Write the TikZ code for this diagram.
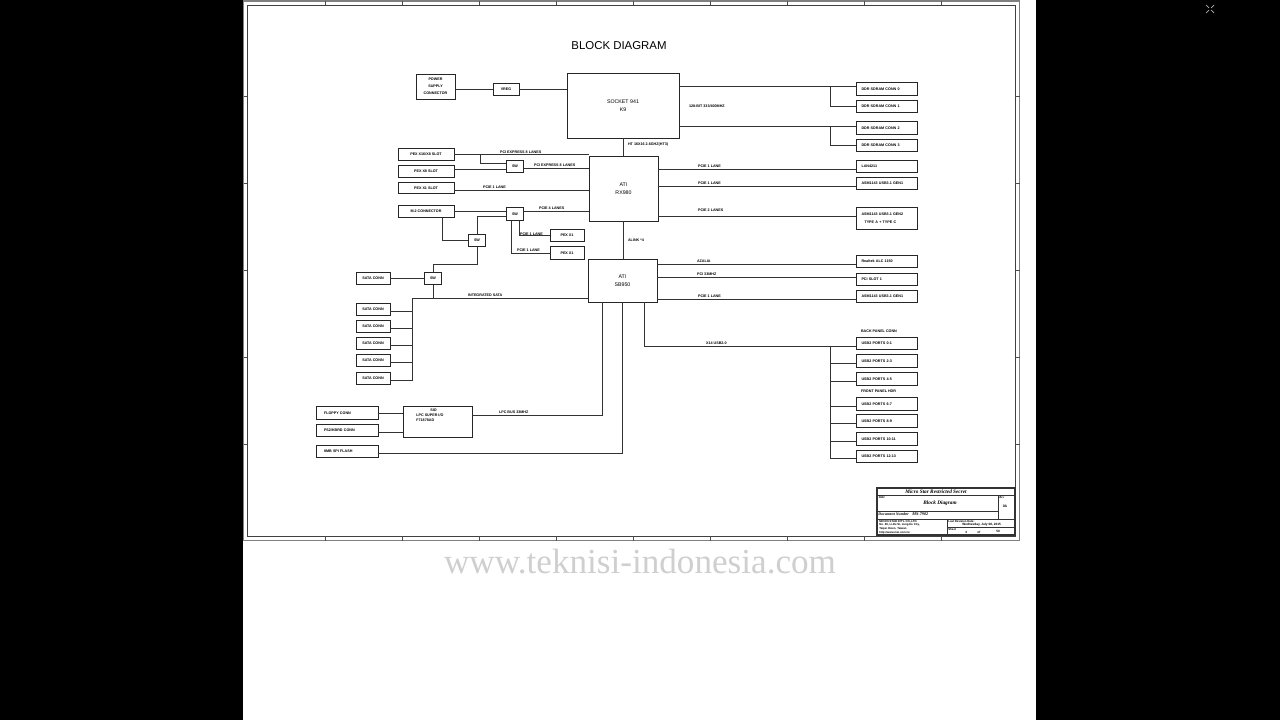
\documentclass[tikz,border=0pt]{standalone}
\usepackage{fontspec}
\setmainfont{Liberation Sans}
\newfontfamily\wmserif{Liberation Serif}
\usetikzlibrary{calc, positioning}
\newlength\pxl
\setlength\pxl{0.02cm}
\newcommand\tinyfont{\bfseries\fontsize{2.1}{2.8}\selectfont}
\newcommand\chipfont{\fontsize{3}{4.5}\selectfont}
\tikzset{
  bus/.style={draw=black!80, line width=0.55pt},
  blk/.style={draw=black!85, line width=0.55pt, inner sep=0pt, font=\tinyfont, align=center},
  slot/.style={blk, minimum width=56\pxl, minimum height=11.5\pxl},
  swbox/.style={blk, minimum width=17\pxl, minimum height=12.5\pxl},
  xone/.style={blk, minimum width=34\pxl, minimum height=12.5\pxl},
  chip/.style={blk, font=\chipfont, minimum width=69\pxl},
  dev/.style={blk, minimum width=61\pxl, minimum height=12.5\pxl, text width=50\pxl, align=left},
  legacy/.style={blk, minimum width=62\pxl, minimum height=12.5\pxl, text width=46\pxl, align=left},
  lbl/.style={font=\tinyfont, inner sep=0.4pt, anchor=south west},
  tbtxt/.style={font=\wmserif\bfseries\itshape\fontsize{3}{3.6}\selectfont, inner sep=0pt},
  tbsmall/.style={font=\fontsize{1.6}{2.1}\selectfont, inner sep=0pt, anchor=west, align=left}
}

\begin{document}
\begin{tikzpicture}[x=\pxl, y=-\pxl]
  \useasboundingbox (0,0) rectangle (1280,720);
  \fill[black] (0,0) rectangle (1280,720);
  \fill[white] (243,0) rectangle (1036,720);

  % sheet frame and zone ticks
  \draw[gray, line width=0.8pt] (243.5,1) rectangle (1019.5,540.5);
  \draw[black!75, line width=0.5pt] (247,5) rectangle (1015,536);
  \foreach \x in {325,402,...,941} {
    \draw[black!70, line width=0.4pt] (\x,1) -- (\x,5);
    \draw[black!70, line width=0.4pt] (\x,536) -- (\x,540.5);
  }
  \foreach \y in {96,183,...,444} {
    \draw[black!70, line width=0.4pt] (243.5,\y) -- (247,\y);
    \draw[black!70, line width=0.4pt] (1015,\y) -- (1019.5,\y);
  }

  % viewer icon
  \draw[gray!60, line width=0.4pt] (1206,5) -- (1209,8) (1214,5) -- (1211,8)
    (1206,13) -- (1209,10) (1214,13) -- (1211,10);

  \node[font=\fontsize{6.5}{8}\selectfont] (title) at (619,46) {BLOCK DIAGRAM};

  % cpu and power
  \node[blk, font=\bfseries\fontsize{2.1}{4}\selectfont, minimum width=39\pxl, minimum height=25\pxl] (psu) at (435.5,86.5) {POWER\\SUPPLY\\CONNECTOR};
  \node[blk, minimum width=26\pxl, minimum height=12\pxl] (vreg) at (506,89) {VREG};
  \node[chip, minimum width=112\pxl, minimum height=65\pxl] (cpu) at (623,105.5) {SOCKET 941\\K9};
  \foreach \i/\y in {0/89,1/106.5,2/128,3/145.5}
    \node[dev] (ddr\i) at (886.5,\y) {DDR SDRAM CONN \i};

  % north bridge
  \node[chip, minimum height=65\pxl] (rx980) at (623.5,188.5) {ATI\\RX980};
  \node[slot] (pex16) at (426,154.5) {PEX X16/X8 SLOT};
  \node[slot] (pex8) at (426,171.5) {PEX X8 SLOT};
  \node[slot] (pex1) at (426,188) {PEX X1 SLOT};
  \node[slot] (m2) at (426,211.5) {M.2 CONNECTOR};
  \node[swbox] (sw1) at (515,166.5) {SW};
  \node[swbox] (sw2) at (515,214) {SW};
  \node[swbox] (sw3) at (477,240.5) {SW};
  \node[swbox] (sw4) at (433,278.5) {SW};
  \node[xone] (pexa) at (567,235.5) {PEX X1};
  \node[xone] (pexb) at (567,253) {PEX X1};
  \node[dev] (lan) at (886.5,166.5) {LAN4211};
  \node[dev] (asm1) at (886.5,183.5) {ASM1143 USB3.1 GEN1};
  \node[dev, minimum height=22\pxl, font=\bfseries\fontsize{2.1}{4.5}\selectfont] (asm2) at (886.5,218) {ASM1143 USB3.1 GEN2\\\hspace*{3\pxl}TYPE A + TYPE C};

  % south bridge
  \node[chip, minimum height=43\pxl] (sb950) at (622.5,280.5) {ATI\\SB950};
  \node[xone] (sata0) at (373,278.5) {SATA CONN};
  \foreach \i/\y in {1/309.5,2/326.5,3/343.5,4/360.5,5/378.5}
    \node[xone] (sata\i) at (373,\y) {SATA CONN};
  \node[dev] (realtek) at (886.5,261.5) {Realtek ALC 1150};
  \node[dev] (pcislot) at (886.5,279.5) {PCI SLOT 1};
  \node[dev] (asm3) at (886.5,296.5) {ASM1143 USB3.1 GEN1};
  \foreach \i/\y/\t in {0/343.5/0-1,1/361/2-3,2/379/4-5,3/404/6-7,4/421/8-9,5/439/10-11,6/456.5/12-13}
    \node[dev] (usb\i) at (886.5,\y) {USB2 PORTS \t};
  \node[lbl, anchor=west] (backlbl) at (860,331) {BACK PANEL CONN};
  \node[lbl, anchor=west] (frontlbl) at (860,391) {FRONT PANEL HDR};

  % legacy io
  \node[blk, minimum width=69\pxl, minimum height=31\pxl] (sio) at (437.5,421.5) {};
  \node[font=\tinyfont, inner sep=0pt, anchor=north west, align=left] (siotxt) at (416,409) {\hspace*{14\pxl}SIO\\LPC SUPER I/O\\F71878AD};
  \node[legacy] (floppy) at (347,413) {FLOPPY CONN};
  \node[legacy] (ps2) at (347,430.5) {PS2/KBRD CONN};
  \node[legacy] (flash) at (347,451.5) {8MB SPI FLASH};

  % cpu side
  \draw[bus] (vreg.west) -- (vreg.west -| psu.east);
  \draw[bus] (vreg.east) -- (vreg.east -| cpu.west);
  \coordinate (memtap) at (830,0);
  \draw[bus] ($(cpu.east |- ddr0.west)+(0,-2.5)$) -- ($(ddr0.west)+(0,-2.5)$);
  \draw[bus] ($(ddr0.west -| memtap)+(0,-2.5)$) |- (ddr1.west);
  \draw[bus] ($(cpu.east |- ddr2.west)+(0,-2)$) -- ($(ddr2.west)+(0,-2)$);
  \draw[bus] ($(ddr2.west -| memtap)+(0,-2)$) |- (ddr3.west);
  \node[lbl, anchor=west] (memlbl) at (688,106) {128-BIT 333/400MHZ};
  \draw[bus] (cpu.south) -- (cpu.south |- rx980.north);
  \node[lbl, anchor=west] (htlbl) at (627,145) {HT 16X16 2.6GHZ(HT3)};

  % pcie slots
  \coordinate (x16tap) at (480,0);
  \draw[bus] (pex16.east) -- (pex16.east -| rx980.west);
  \draw[bus] (pex16.east -| x16tap) |- ($(sw1.west)+(0,-3)$);
  \draw[bus] ($(pex8.east)+(0,-2)$) -- ($(pex8.east -| sw1.west)+(0,-2)$);
  \draw[bus] ($(sw1.east)+(0,1.5)$) -- ($(sw1.east -| rx980.west)+(0,1.5)$);
  \draw[bus] ($(pex1.east)+(0,2)$) -- ($(pex1.east -| rx980.west)+(0,2)$);
  \node[lbl] (l16) at (499,154.5) {PCI EXPRESS 8 LANES};
  \node[lbl] (l8) at (533,168) {PCI EXPRESS 8 LANES};
  \node[lbl] (l1) at (482,190) {PCIE 1 LANE};

  % m.2 and switches
  \draw[bus] (m2.east) -- (m2.east -| sw2.west);
  \draw[bus] ($(sw2.east)+(0,-3)$) -- ($(sw2.east -| rx980.west)+(0,-3)$);
  \node[lbl] (l4) at (538,211) {PCIE 4 LANES};
  \draw[bus] ($(m2.south)+(16,0)$) |- (sw3.west);
  \draw[bus] ($(sw2.west)+(0,2.5)$) -| (sw3.north);
  \draw[bus] ($(sw2.south)+(4,0)$) |- (pexa.west);
  \draw[bus] ($(sw2.south)+(-4,0)$) |- (pexb.west);
  \node[lbl] (la) at (519,237) {PCIE 1 LANE};
  \node[lbl] (lb) at (516,253) {PCIE 1 LANE};
  \draw[bus] (sw3.south) -- ++(0,17) -| (sw4.north);

  % sata
  \coordinate (satabus) at (412,298);
  \draw[bus] (sata0.east) -- (sw4.west);
  \draw[bus] (sw4.south) -- (sw4.south |- satabus);
  \draw[bus] (satabus) -- (satabus -| sb950.west);
  \draw[bus] (satabus) |- ($(sata5.east)+(0,1.5)$);
  \foreach \i in {1,...,4}
    \draw[bus] ($(sata\i.east)+(0,2)$) -- ($(sata\i.east -| satabus)+(0,2)$);
  \node[lbl] (lsata) at (467,298) {INTEGRATED SATA};

  \draw[bus] (rx980.south) -- (rx980.south |- sb950.north);
  \node[lbl, anchor=west] (alinklbl) at (627,240) {ALINK *4};

  % north bridge right side
  \draw[bus] ($(lan.west -| rx980.east)+(0,2.5)$) -- ($(lan.west)+(0,2.5)$);
  \draw[bus] ($(asm1.west -| rx980.east)+(0,2.5)$) -- ($(asm1.west)+(0,2.5)$);
  \draw[bus] ($(asm2.west -| rx980.east)+(0,-2)$) -- ($(asm2.west)+(0,-2)$);
  \node[lbl] (llan) at (697,169) {PCIE 1 LANE};
  \node[lbl] (lasm1) at (697,186) {PCIE 1 LANE};
  \node[lbl] (lasm2) at (697,213) {PCIE 2 LANES};

  % south bridge right side
  \draw[bus] ($(realtek.west -| sb950.east)+(0,2.5)$) -- ($(realtek.west)+(0,2.5)$);
  \draw[bus] ($(pcislot.west -| sb950.east)+(0,-2.5)$) -- ($(pcislot.west)+(0,-2.5)$);
  \draw[bus] ($(asm3.west -| sb950.east)+(0,2.5)$) -- ($(asm3.west)+(0,2.5)$);
  \node[lbl] (laz) at (696,264) {AZALIA};
  \node[lbl] (lpci) at (696,277) {PCI 33MHZ};
  \node[lbl] (lasm3) at (697,299) {PCIE 1 LANE};

  % usb
  \coordinate (usbtap) at (830,0);
  \draw[bus] ($(sb950.south)+(21.5,0)$) |- ($(usb0.west)+(0,2.5)$);
  \draw[bus] ($(usb0.west -| usbtap)+(0,2.5)$) -- ($(usb6.west -| usbtap)+(0,2)$);
  \foreach \i in {1,...,6}
    \draw[bus] ($(usb\i.west -| usbtap)+(0,2)$) -- ($(usb\i.west)+(0,2)$);
  \node[lbl] (lusb) at (705,346) {X14 USB2.0};

  % lpc
  \draw[bus] ($(sb950.south)+(-20.5,0)$) |- ($(sio.east)+(0,-6.5)$);
  \draw[bus] (floppy.east) -- (floppy.east -| sio.west);
  \draw[bus] ($(ps2.east)+(0,1.5)$) -- ($(ps2.east -| sio.west)+(0,1.5)$);
  \draw[bus] ($(flash.east)+(0,2)$) -| (sb950.south);
  \node[lbl] (llpc) at (498,415) {LPC BUS 33MHZ};

  % title block
  \draw[black!80, line width=0.6pt] (877,488) rectangle (1015,535);
  \draw[black!80, line width=0.5pt] (877,495) -- (1015,495) (877,511) -- (998,511)
    (877,519) -- (1015,519) (998,495) -- (998,519) (947,519) -- (947,535) (947,527) -- (1015,527);
  \node[tbtxt] (secret) at (936,491.5) {Micro Star Restricted Secret};
  \node[tbsmall, anchor=north west, font=\wmserif\bfseries\itshape\fontsize{2}{2.4}\selectfont] (ttl) at (878,496) {Title};
  \node[tbtxt] (sheetname) at (940,503) {Block Diagram};
  \node[tbtxt, anchor=west, font=\wmserif\bfseries\itshape\fontsize{2.2}{2.6}\selectfont] (docnum) at (878,514.5) {Document Number};
  \node[tbtxt, anchor=west, font=\wmserif\bfseries\itshape\fontsize{2.4}{2.8}\selectfont] (model) at (912,514.5) {MS-7902};
  \node[tbsmall, anchor=north west, font=\wmserif\bfseries\itshape\fontsize{1.8}{2.2}\selectfont] (revhd) at (999,496) {Rev};
  \node[tbsmall, anchor=center, font=\bfseries\fontsize{2}{2.4}\selectfont] (rev) at (1005,506) {0A};
  \node[tbsmall, font=\bfseries\fontsize{1.6}{2.1}\selectfont] (company) at (879,527) {MICRO-STAR INT'L CO.,LTD.\\No. 69, Li-De St, Jung-He City,\\Taipei Hsien, Taiwan\\http://www.msi.com.tw};
  \node[tbsmall, font=\bfseries\fontsize{1.6}{2.1}\selectfont] (lastrev) at (948,521.5) {Last Revision Date:};
  \node[tbsmall, font=\bfseries\fontsize{1.8}{2.1}\selectfont] (revdate) at (962,524.5) {Wednesday, July 08, 2015};
  \node[tbsmall, font=\bfseries\fontsize{1.6}{2.1}\selectfont] (sheethd) at (948,529) {Sheet};
  \node[tbsmall, font=\bfseries\fontsize{1.8}{2.1}\selectfont] (sheetno) at (965,532) {3};
  \node[tbsmall, font=\bfseries\fontsize{1.8}{2.1}\selectfont] (sheetof) at (977,532) {of};
  \node[tbsmall, font=\bfseries\fontsize{1.8}{2.1}\selectfont] (sheetall) at (996,531) {50};

  % watermark
  \node[text=black!19, font=\wmserif\fontsize{20}{24}\selectfont] (wm) at (640,562) {www.teknisi-indonesia.com};
\end{tikzpicture}
\end{document}
